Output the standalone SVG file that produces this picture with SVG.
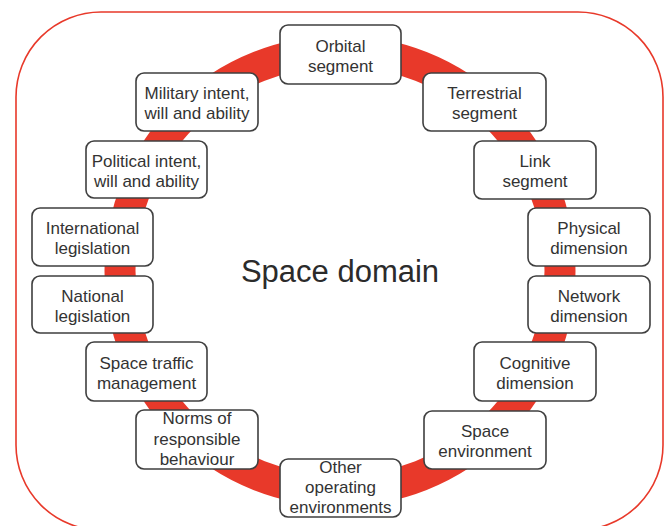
<svg xmlns="http://www.w3.org/2000/svg" width="670" height="526" viewBox="0 0 670 526">
<style>
.box{fill:#fff;stroke:#3f3f3f;stroke-width:1.6}
.t{font-family:"Liberation Sans",Arial,sans-serif;font-size:17px;fill:#333;text-anchor:middle}
</style>
<rect width="670" height="526" fill="#fff"/>
<rect x="16" y="12" width="647" height="518" rx="85" fill="none" stroke="#e8392a" stroke-width="1.6"/>
<g id="connectors">
<circle cx="340" cy="271" r="220" fill="none" stroke="#e8392a" stroke-width="31"/>
</g>
<text x="340" y="282" font-family="Liberation Sans, Arial, sans-serif" font-size="31" fill="#2b2b2b" text-anchor="middle">Space domain</text>
<g id="orbital"><rect class="box" x="280" y="25" width="121" height="59" rx="8"/><text class="t" x="340.5" y="51.5">Orbital</text><text class="t" x="340.5" y="71.5">segment</text></g>
<g id="terrestrial"><rect class="box" x="423" y="73" width="123" height="58" rx="8"/><text class="t" x="484.5" y="99">Terrestrial</text><text class="t" x="484.5" y="119">segment</text></g>
<g id="link"><rect class="box" x="474" y="141" width="122" height="58" rx="8"/><text class="t" x="535" y="167">Link</text><text class="t" x="535" y="187">segment</text></g>
<g id="physical"><rect class="box" x="528" y="208" width="122" height="58" rx="8"/><text class="t" x="589" y="234">Physical</text><text class="t" x="589" y="254">dimension</text></g>
<g id="network"><rect class="box" x="528" y="276" width="122" height="57" rx="8"/><text class="t" x="589" y="301.5">Network</text><text class="t" x="589" y="321.5">dimension</text></g>
<g id="cognitive"><rect class="box" x="474" y="342" width="122" height="59" rx="8"/><text class="t" x="535" y="368.5">Cognitive</text><text class="t" x="535" y="388.5">dimension</text></g>
<g id="spaceenv"><rect class="box" x="424" y="411" width="122" height="58" rx="8"/><text class="t" x="485" y="437">Space</text><text class="t" x="485" y="457">environment</text></g>
<g id="other"><rect class="box" x="280" y="459" width="121" height="58" rx="8"/><text class="t" x="340.5" y="473">Other</text><text class="t" x="340.5" y="493">operating</text><text class="t" x="340.5" y="513">environments</text></g>
<g id="norms"><rect class="box" x="136" y="410" width="122" height="59" rx="8"/><text class="t" x="197" y="424">Norms of</text><text class="t" x="197" y="445">responsible</text><text class="t" x="197" y="465">behaviour</text></g>
<g id="traffic"><rect class="box" x="86" y="342" width="121" height="59" rx="8"/><text class="t" x="146.5" y="368.5">Space traffic</text><text class="t" x="146.5" y="388.5">management</text></g>
<g id="national"><rect class="box" x="32" y="276" width="121" height="57" rx="8"/><text class="t" x="92.5" y="301.5">National</text><text class="t" x="92.5" y="321.5">legislation</text></g>
<g id="international"><rect class="box" x="32" y="208" width="121" height="58" rx="8"/><text class="t" x="92.5" y="234">International</text><text class="t" x="92.5" y="254">legislation</text></g>
<g id="political"><rect class="box" x="86" y="141" width="121" height="57" rx="8"/><text class="t" x="146.5" y="166.5">Political intent,</text><text class="t" x="146.5" y="186.5">will and ability</text></g>
<g id="military"><rect class="box" x="136" y="73" width="122" height="58" rx="8"/><text class="t" x="197" y="99">Military intent,</text><text class="t" x="197" y="119">will and ability</text></g>
</svg>
